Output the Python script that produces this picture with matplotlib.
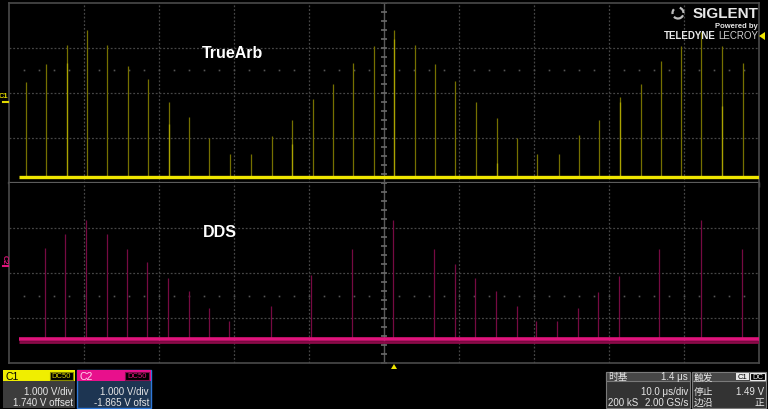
import numpy as np
import matplotlib
matplotlib.use("Agg")
import matplotlib.pyplot as plt
from matplotlib.patches import Rectangle, Polygon, Arc
from matplotlib.lines import Line2D

plt.rcParams['font.family'] = ['Liberation Sans', 'DejaVu Sans']

# TrueArb (C1) spikes: time in us, height in V above baseline
ta_t = [-47.77, -45.07, -42.31, -39.56, -36.89, -34.17, -31.47, -28.67, -25.96,
        -23.29, -20.57, -17.69, -14.97, -12.23, -9.47, -6.76, -4.09, -1.33,
        1.37, 4.13, 6.84, 9.51, 12.27, 15.03, 17.73, 20.44, 23.33, 26.04,
        28.71, 31.43, 34.23, 36.93, 39.64, 42.31, 45.11, 47.83]
ta_v = [2.11, 2.51, 2.93, 3.27, 2.93, 2.47, 2.18, 1.67, 1.33, 0.87, 0.51, 0.51,
        0.91, 1.27, 1.73, 2.07, 2.53, 2.91, 3.27, 2.93, 2.51, 2.13, 1.67, 1.31,
        0.87, 0.51, 0.51, 0.93, 1.27, 1.78, 2.07, 2.58, 2.91, 3.22, 2.91, 2.53]
# brighter (more frequent) lower part of some spikes
ta_bt = [-42.31, -28.67, -12.23, 1.37, 15.03, 31.43, 45.11]
ta_bv = [2.53, 1.18, 0.73, 3.07, 0.31, 1.67, 1.58]

# DDS (C2) spikes
dds_t = [-45.16, -42.49, -39.73, -36.97, -34.27, -31.56, -28.76, -26.04, -23.37,
         -20.63, -15.11, -9.69, -4.23, 1.24, 6.71, 9.43, 12.13, 14.93, 17.69,
         20.31, 23.11, 25.83, 28.53, 31.33, 36.71, 42.23, 47.73]
dds_v = [2.02, 2.33, 2.64, 2.33, 2.00, 1.71, 1.36, 1.07, 0.69, 0.41, 0.73, 1.42,
         2.01, 2.64, 2.01, 1.66, 1.36, 1.07, 0.73, 0.41, 0.41, 0.69, 1.04, 1.41,
         2.01, 2.64, 2.01]

trace_t = [-48.7, 50.0]

W, H = 768, 410
fig = plt.figure(figsize=(W / 100, H / 100), dpi=100)
fig.patch.set_facecolor('black')


def fx(x):
    return x / W


def fy(y):
    return 1 - y / H


def box(x0, y0, x1, y1, fc, ec='none', lw=0.8):
    fig.patches.append(Rectangle((fx(x0), fy(y1)), fx(x1 - x0), (y1 - y0) / H,
                                 transform=fig.transFigure, fc=fc, ec=ec, lw=lw))


def txt(x, y, s, c='#e6e6e6', size=7, ha='left', weight='normal', fam=None, **kw):
    fam = fam or ['Liberation Sans', 'DejaVu Sans']
    fig.text(fx(x), fy(y), s, color=c, fontsize=size, ha=ha, va='center',
             fontweight=weight, family=fam, **kw)


grid_c = '#464646'
ax1 = fig.add_axes([fx(9), fy(184), fx(750), 180 / H])
ax2 = fig.add_axes([fx(9), fy(364), fx(750), 180 / H])
ylims = {ax1: (-0.133, 3.867), ax2: (-0.533, 3.467)}
dots = {ax1: 2.378, ax2: 0.956}
for ax in (ax1, ax2):
    ax.set_facecolor('black')
    ax.set_xlim(-50, 50)
    lo, hi = ylims[ax]
    ax.set_ylim(lo, hi)
    for x in range(-40, 50, 10):
        if x == 0:
            continue
        ax.axvline(x, color=grid_c, lw=0.9, ls=(0, (1.5, 1.5)), zorder=1)
    for k in (1, 2, 3):
        ax.axhline(lo + k, color=grid_c, lw=0.9, ls=(0, (1.5, 1.5)), zorder=1)
    ax.plot(np.arange(-48, 50, 2), [dots[ax]] * 49, ls='none', marker='s',
            ms=1.2, color='#555555', mew=0, zorder=1)
    ax.axvline(0, color='#5a5a5a', lw=1.0, zorder=1)
    ax.plot([0] * 21, np.linspace(lo, hi, 21), ls='none', marker='_', ms=4,
            color='#6a6a6a', mew=1.2, zorder=1)
    for s in ax.spines.values():
        s.set_color('#4a4a4a')
        s.set_linewidth(1.2)
    ax.set_yticks([])
    ax.set_xticks(np.arange(-50, 51, 2))
    ax.tick_params(axis='x', direction='out', length=3, width=1.0,
                   color='#666666', labelbottom=False)
ax1.spines['bottom'].set_color('#5c5c5c')
ax1.spines['bottom'].set_linewidth(1.6)
ax2.tick_params(axis='x', length=0)
ax2.spines['top'].set_visible(False)

# TrueArb trace
ax1.vlines(ta_t, 0, ta_v, colors='#767000', lw=0.9, zorder=2)
ax1.vlines(ta_bt, 0, ta_bv, colors='#aaa300', lw=0.9, zorder=2)
ax1.plot(trace_t, [0, 0], color='#f0e600', lw=2.4, solid_capstyle='butt', zorder=3)

# DDS trace
ax2.vlines(dds_t, 0, dds_v, colors='#760a42', lw=0.9, zorder=2)
ax2.plot(trace_t, [-0.06, -0.06], color='#8a0a48', lw=2.0, solid_capstyle='butt', zorder=3)
ax2.plot(trace_t, [0, 0], color='#e0147c', lw=2.6, solid_capstyle='butt', zorder=3)

# panel labels
txt(202, 53, 'TrueArb', c='white', size=11.5, weight='bold')
txt(203, 233, 'DDS', c='white', size=11.5, weight='bold')

# channel tags on the left
txt(-1, 97, 'C1', c='#e0d800', size=5.5, weight='bold')
fig.add_artist(Line2D([fx(3), fx(8)], [fy(103), fy(103)], color='#e0d800', lw=1.5))
txt(4, 260, 'C2', c='#e0147c', size=5.5, weight='bold', rotation=-90, ha='center')
fig.add_artist(Line2D([fx(3), fx(8)], [fy(267), fy(267)], color='#e0147c', lw=1.5))

# trigger markers
fig.patches.append(Polygon([(fx(759), fy(37)), (fx(765), fy(33)), (fx(765), fy(41))],
                           transform=fig.transFigure, fc='#f0e600', ec='none'))
fig.patches.append(Polygon([(fx(391), fy(370)), (fx(397), fy(370)), (fx(394), fy(365))],
                           transform=fig.transFigure, fc='#f0e600', ec='none'))

# logo
for r, a in ((5.5, 0), (5.5, 120), (5.5, 240)):
    fig.patches.append(Arc((fx(678), fy(14)), 2 * r / W, 2 * r / H, theta1=a,
                           theta2=a + 80, transform=fig.transFigure,
                           color='#bbbbbb', lw=1.6))
txt(758, 14, 'SIGLENT', c='#e8e8e8', size=11, weight='bold', ha='right')
txt(758, 26, 'Powered by', c='#e8e8e8', size=5.5, weight='bold', ha='right')
txt(716, 36, 'TELEDYNE', c='#e8e8e8', size=7, weight='bold', ha='right')
txt(758, 36, 'LECROY', c='#d0d0d0', size=7, ha='right')

# C1 info box
box(3, 371, 75, 382, '#f0ee00')
box(3, 382, 75, 409, '#3c3c3c')
txt(6, 377, 'C1', c='black', size=7.5)
box(50, 373, 73, 381, 'black', ec='#8a8a00')
txt(61.5, 377, 'DC50', c='#d8d000', size=5.5, ha='center')
txt(73, 392, '1.000 V/div', size=7, ha='right')
txt(73, 403, '1.740 V offset', size=7, ha='right')

# C2 info box
box(77, 371, 151, 409, '#1d3552', ec='#2f78d8', lw=1.0)
box(77, 371, 151, 382, '#e8108c')
txt(80, 377, 'C2', c='#ffd6ee', size=7.5)
box(125, 373, 149, 381, 'black', ec='#80104c')
txt(137, 377, 'DC50', c='#e0147c', size=5.5, ha='center')
txt(149, 392, '1.000 V/div', size=7, ha='right')
txt(149, 403, '-1.865 V ofst', size=7, ha='right')

# timebase / trigger boxes
cjk = ['Noto Sans CJK SC', 'DejaVu Sans']
box(606, 373, 690, 409, '#333333', ec='#7a7a7a')
box(606, 373, 690, 382, '#474747', ec='#7a7a7a')
txt(608, 377.5, '时基', size=7, fam=cjk)
txt(688, 377.5, '1.4 μs', size=7, ha='right')
txt(688, 392, '10.0 μs/div', size=7, ha='right')
txt(608, 403, '200 kS', size=7)
txt(688, 403, '2.00 GS/s', size=7, ha='right')

box(692, 373, 766, 409, '#333333', ec='#7a7a7a')
box(692, 373, 766, 382, '#474747', ec='#7a7a7a')
txt(694, 377.5, '触发', size=7, fam=cjk)
box(736, 374, 749, 381, '#e8e8e8')
txt(742.5, 377.5, 'C1', c='black', size=5.5, ha='center')
box(750, 374, 765, 381, 'black', ec='#e8e8e8')
txt(757.5, 377.5, 'DC', c='#e8e8e8', size=5.5, ha='center')
txt(694, 392, '停止', size=7, fam=cjk)
txt(764, 392, '1.49 V', size=7, ha='right')
txt(694, 403, '边沿', size=7, fam=cjk)
txt(764, 403, '正', size=7, ha='right', fam=cjk)

fig.savefig('out.png', dpi=100, facecolor='black')
